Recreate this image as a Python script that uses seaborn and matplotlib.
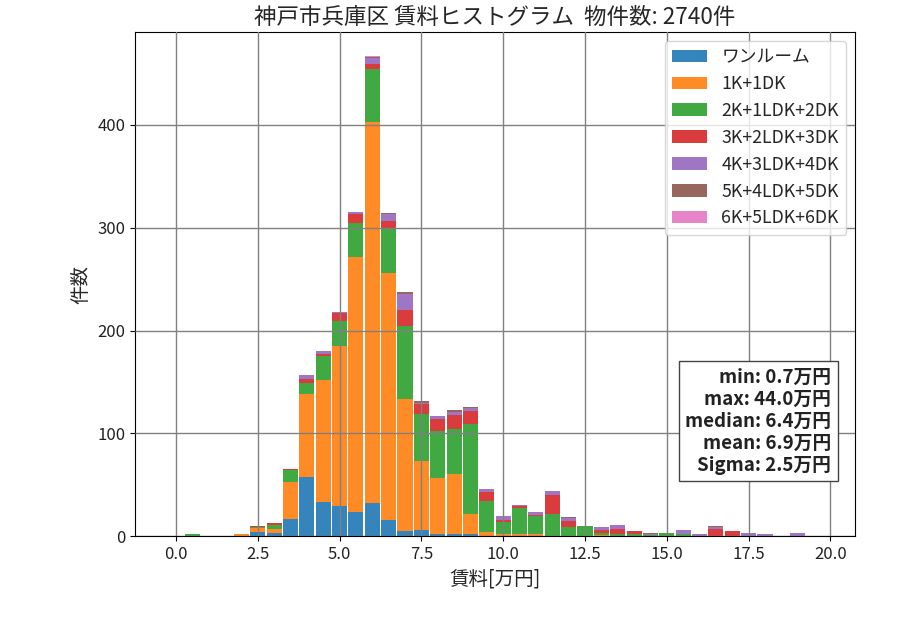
import matplotlib
matplotlib.use("Agg")
import matplotlib.pyplot as plt
from matplotlib.patches import Patch
import seaborn as sns
import numpy as np
import pandas as pd

# 賃料の階級(0.5万円刻みの中心値)
rent_centers = [i * 0.5 for i in range(40)]

# 間取りごとの件数
madori = ['ワンルーム', '1K+1DK', '2K+1LDK+2DK', '3K+2LDK+3DK',
          '4K+3LDK+4DK', '5K+4LDK+5DK', '6K+5LDK+6DK']
cnt_1r = [0, 0, 0, 0, 0, 4, 3, 17, 58, 33, 29, 23, 32, 16, 5, 6, 2, 2, 2, 0,
          0, 0, 0, 0, 0, 0, 0, 0, 0, 0, 0, 0, 0, 0, 0, 0, 0, 0, 0, 0]
cnt_1k = [0, 0, 0, 0, 2, 4, 4, 36, 80, 119, 156, 249, 371, 240, 128, 67, 55, 58, 20, 4,
          2, 2, 2, 0, 0, 0, 1, 0, 0, 0, 0, 0, 0, 0, 0, 0, 0, 0, 0, 0]
cnt_2k = [0, 2, 0, 0, 0, 1, 4, 11, 11, 23, 24, 33, 51, 43, 71, 46, 45, 44, 87, 30,
          12, 25, 18, 22, 9, 10, 2, 2, 2, 1, 3, 2, 0, 0, 0, 0, 0, 0, 0, 0]
cnt_3k = [0, 0, 0, 0, 0, 1, 2, 1, 4, 2, 8, 8, 5, 8, 16, 10, 12, 14, 13, 9,
          2, 2, 1, 18, 6, 0, 3, 5, 3, 0, 0, 0, 0, 7, 5, 0, 0, 0, 0, 0]
cnt_4k = [0, 0, 0, 0, 0, 0, 0, 0, 4, 3, 1, 2, 6, 6, 16, 1, 3, 3, 3, 3,
          4, 1, 2, 4, 3, 0, 3, 4, 0, 1, 0, 4, 2, 2, 0, 3, 2, 0, 3, 0]
cnt_5k = [0, 0, 0, 0, 0, 0, 0, 0, 0, 0, 0, 0, 1, 1, 2, 1, 0, 2, 1, 0,
          0, 0, 0, 0, 1, 0, 0, 0, 0, 1, 0, 0, 0, 1, 0, 0, 0, 0, 0, 0]
cnt_6k = [0, 0, 0, 0, 0, 0, 0, 0, 0, 0, 0, 0, 1, 0, 0, 0, 0, 0, 0, 0,
          0, 0, 0, 0, 0, 0, 0, 0, 0, 0, 0, 0, 0, 0, 0, 0, 0, 0, 0, 0]

stats_text = "min: 0.7万円\nmax: 44.0万円\nmedian: 6.4万円\nmean: 6.9万円\nSigma: 2.5万円"
title = "神戸市兵庫区 賃料ヒストグラム  物件数: 2740件"

sns.set_style("ticks")
plt.rcParams['font.family'] = ['Noto Sans CJK JP', 'DejaVu Sans']

counts = [cnt_1r, cnt_1k, cnt_2k, cnt_3k, cnt_4k, cnt_5k, cnt_6k]
rows = []
for name, cnt in zip(madori, counts):
    for x, c in zip(rent_centers, cnt):
        if c > 0:
            rows.append({'rent': x, 'madori': name, 'n': c})
df = pd.DataFrame(rows)

colors = sns.color_palette('tab10', 7)
pal = dict(zip(madori, colors))

fig = plt.figure(figsize=(9, 6.3), dpi=100)
fig.subplots_adjust(left=0.15, right=0.95, bottom=0.149, top=0.949)
ax = fig.add_subplot(111)

# seabornのstackは後ろのhueが下になるので逆順で渡す
sns.histplot(data=df, x='rent', weights='n', hue='madori', hue_order=madori[::-1],
             palette=pal, multiple='stack', binwidth=0.5, binrange=(-0.25, 19.75),
             shrink=0.92, alpha=0.9, linewidth=0, legend=False, ax=ax)

ax.set_xlim(-1.25, 20.75)
ax.set_xticks([0, 2.5, 5, 7.5, 10, 12.5, 15, 17.5, 20])
ax.set_axisbelow(False)
ax.grid(True, color='gray', linewidth=1)
for s in ax.spines.values():
    s.set_visible(True)
    s.set_color('black')
ax.tick_params(labelsize=12, color='black', labelcolor='#222222')

ax.set_title(title, fontsize=16.2)
ax.set_xlabel('賃料[万円]', fontsize=14)
ax.set_ylabel('件数', fontsize=14)

handles = [Patch(facecolor=pal[m], alpha=0.9, linewidth=0) for m in madori]
ax.legend(handles, madori, loc='upper right', fontsize=12.8, frameon=True,
          framealpha=0.8, edgecolor='#cccccc', fancybox=True)

ax.text(0.967, 0.122, stats_text, transform=ax.transAxes, ha='right', va='bottom',
        fontsize=13.5, fontweight='bold', color='#222222', linespacing=1.2,
        bbox=dict(boxstyle='square,pad=0.35', facecolor='white', edgecolor='#444444'))

fig.savefig('out.png', dpi=100)
